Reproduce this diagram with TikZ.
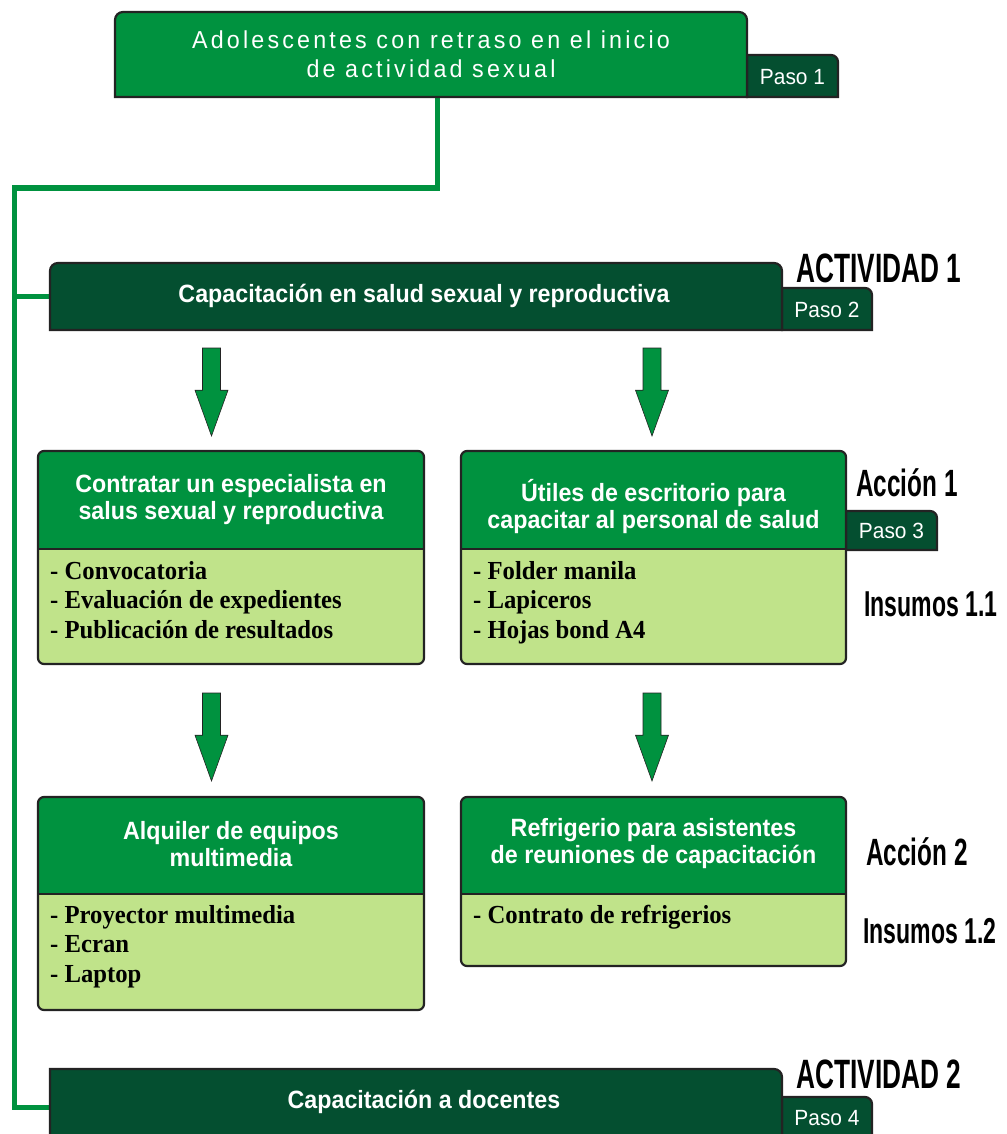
\documentclass[tikz,border=0pt]{standalone}
\usepackage{fontspec}
\setmainfont{Liberation Sans}
\newfontfamily\hdrfont[FakeStretch=0.93]{Liberation Sans Bold}
\newfontfamily\itemfont[FakeStretch=0.95]{Liberation Serif Bold}
\newfontfamily\lblfont[FakeStretch=0.64]{Liberation Sans Bold}
\newfontfamily\topfont[FakeStretch=0.95,LetterSpace=13]{Liberation Sans}
\newfontfamily\pasofont[FakeStretch=0.95]{Liberation Sans}
\definecolor{mgreen}{RGB}{0,146,63}
\definecolor{dgreen}{RGB}{4,79,48}
\definecolor{lgreen}{RGB}{192,227,138}
\definecolor{bord}{RGB}{35,35,35}
\tikzset{
  outl/.style={draw=bord, line width=2.2pt},
  conn/.style={draw=mgreen, line width=5pt},
  ghost/.style={inner sep=0pt, outer sep=0pt, draw=none},
  hdr/.style={text=white, font=\hdrfont\fontsize{25}{27}\selectfont, align=center, inner sep=0pt},
  items/.style={text=black, font=\itemfont\fontsize{26}{29.5}\selectfont, align=left, anchor=north west, inner sep=0pt},
  lbl/.style={text=black, font=\lblfont\fontsize{41}{41}\selectfont, inner sep=0pt},
  paso/.style={text=white, font=\pasofont\fontsize{22}{22}\selectfont, inner sep=0pt},
  arrowshape/.style={fill=mgreen, draw=bord, line width=0.6pt},
}
\begin{document}
\begin{tikzpicture}[x=1pt,y=-1pt]
\useasboundingbox (0,0) rectangle (1006,1134);

% ---------- anchors of boxes (ghost nodes) ----------
\node[ghost, minimum width=632pt, minimum height=85pt] (top) at (431,54.5) {};
\node[ghost, minimum width=732pt, minimum height=67pt] (act1) at (416,296.5) {};
\node[ghost, minimum width=732pt, minimum height=70pt] (act2) at (416,1103) {};
\coordinate (jt) at (437,188);
\coordinate (jl) at (14,188);
\coordinate (j1) at (14,296.5);
\coordinate (j2) at (14,1107);

% ---------- connector ----------
\draw[conn] (top.south -| jt) -- (jt) -- (jl) -- (j2) -- (act2.west |- j2);
\draw[conn] (j1) -- (act1.west);

% ---------- Paso 1 tab + top box ----------
\draw[outl, fill=dgreen] (747,97) -- (747,55) [rounded corners=7]-- (838,55) [sharp corners]-- (838,97) -- cycle;
\draw[outl, fill=mgreen] (top.south west) [rounded corners=8]-- (top.north west) -- (top.north east) [sharp corners]-- (top.south east) -- cycle;
\node[text=white, font=\topfont\fontsize{24.5}{29}\selectfont, align=center, inner sep=0pt] (toptext) at (431,54) {Adolescentes con retraso en el inicio\\de actividad sexual};
\node[paso] (paso1) at (792.5,77) {Paso 1};

% ---------- Actividad 1 ----------
\draw[outl, fill=dgreen] (782,330) -- (782,288) [rounded corners=7]-- (872,288) [sharp corners]-- (872,330) -- cycle;
\draw[outl, fill=dgreen] (act1.south west) [rounded corners=8]-- (act1.north west) -- (act1.north east) [sharp corners]-- (act1.south east) -- cycle;
\node[hdr] (act1t) at (424,296) {Capacitación en salud sexual y reproductiva};
\node[paso] (paso2) at (827,310) {Paso 2};
\node[lbl] (actlbl1) at (879,268) {ACTIVIDAD 1};

% ---------- Actividad 2 ----------
\draw[outl, fill=dgreen] (782,1140) -- (782,1097) [rounded corners=7]-- (872,1097) [sharp corners]-- (872,1140);
\draw[outl, fill=dgreen] (50,1140) -- (50,1069) [rounded corners=8]-- (782,1069) [sharp corners]-- (782,1140);
\node[hdr] (act2t) at (424,1102) {Capacitación a docentes};
\node[paso] (paso4) at (827,1118) {Paso 4};
\node[lbl] (actlbl2) at (879,1074) {ACTIVIDAD 2};

% ---------- Paso 3 tab ----------
\draw[outl, fill=dgreen] (846,550) -- (846,511) [rounded corners=7]-- (937,511) [sharp corners]-- (937,550) -- cycle;
\node[paso] (paso3) at (891.5,531) {Paso 3};

% ---------- action boxes ----------
% args: name, left x, right x, top y, divider y, bottom y
\newcommand{\actbox}[6]{%
  \fill[lgreen, rounded corners=6] (#2,#4) rectangle (#3,#6);
  \fill[mgreen, rounded corners=6] (#2,#4) rectangle (#3,#5+8);
  \fill[lgreen] (#2+1,#5) rectangle (#3-1,#5+9);
  \draw[outl] (#2,#5) -- (#3,#5);
  \draw[outl, rounded corners=6] (#2,#4) rectangle (#3,#6);
  \node[ghost, minimum width=#3-#2, minimum height=#6-#4] (#1) at ({(#2+#3)/2},{(#4+#6)/2}) {};
}
\actbox{b1}{38}{424}{451}{549}{664}
\actbox{b2}{461}{846}{451}{549}{664}
\actbox{b3}{38}{424}{797}{894}{1010}
\actbox{b4}{461}{846}{797}{894}{966}

\node[hdr] (b1h) at (231,500) {Contratar un especialista en\\salus sexual y reproductiva};
\node[hdr] (b2h) at (653.5,507) {Útiles de escritorio para\\capacitar al personal de salud};
\node[hdr] (b3h) at (231,844) {Alquiler de equipos\\multimedia};
\node[hdr] (b4h) at (653.5,844) {Refrigerio para asistentes\\de reuniones de capacitación};

\node[items] (b1i) at (50,561) {- Convocatoria\\- Evaluación de expedientes\\- Publicación de resultados};
\node[items] (b2i) at (473,561) {- Folder manila\\- Lapiceros\\- Hojas bond A4};
\node[items] (b3i) at (50,905) {- Proyector multimedia\\- Ecran\\- Laptop};
\node[items] (b4i) at (473,905) {- Contrato de refrigerios};

\node[lbl, font=\lblfont\fontsize{38}{38}\selectfont] (acc1) at (907,483) {Acción 1};
\node[lbl, font=\lblfont\fontsize{38}{38}\selectfont] (acc2) at (917,852) {Acción 2};
\node[lbl, font=\lblfont\fontsize{36}{36}\selectfont] (ins1) at (931,604) {Insumos 1.1};
\node[lbl, font=\lblfont\fontsize{36}{36}\selectfont] (ins2) at (930,931) {Insumos 1.2};

% ---------- block arrows ----------
\newcommand{\blockarrow}[3]{% x center, top y, tip y
  \draw[arrowshape] (#1-9,#2) -- (#1+9,#2) -- (#1+9,{#2+0.48*(#3-#2)}) -- (#1+16.5,{#2+0.48*(#3-#2)}) -- (#1,#3) -- (#1-16.5,{#2+0.48*(#3-#2)}) -- (#1-9,{#2+0.48*(#3-#2)}) -- cycle;
}
\blockarrow{211.5}{348}{436}
\blockarrow{652}{348}{436}
\blockarrow{211.5}{693}{781}
\blockarrow{652}{693}{781}
\end{tikzpicture}
\end{document}
